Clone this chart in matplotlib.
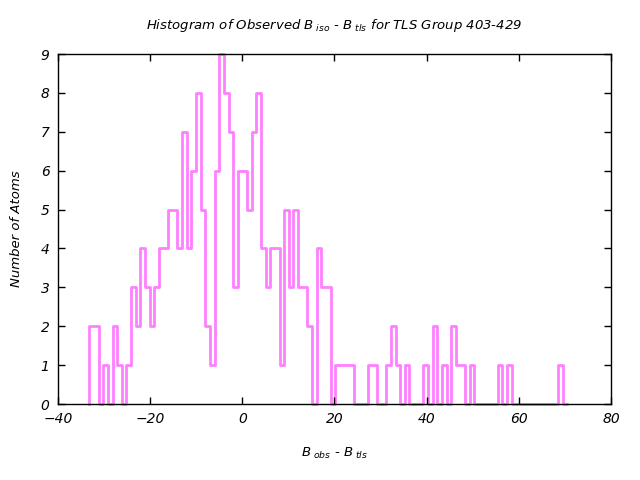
import matplotlib
matplotlib.use("Agg")
import matplotlib.pyplot as plt
import numpy as np

# histogram counts, one per bin (bin width ~1.0)
bin_start = -33.2
bin_end = 70.5
counts = [2, 2, 0, 1, 0, 2, 1, 0, 1, 3, 2, 4, 3, 2, 3, 4, 4, 5, 5, 4,
          7, 4, 6, 8, 5, 2, 1, 6, 9, 8, 7, 3, 6, 6, 5, 7, 8, 4, 3, 4,
          4, 1, 5, 3, 5, 3, 3, 2, 0, 4, 3, 3, 0, 1, 1, 1, 1, 0, 0, 0,
          1, 1, 0, 0, 1, 2, 1, 0, 1, 0, 0, 0, 1, 0, 2, 0, 1, 0, 2, 1,
          1, 0, 1, 0, 0, 0, 0, 0, 1, 0, 1, 0, 0, 0, 0, 0, 0, 0, 0, 0,
          0, 1, 0]

x_ticks = [-40, -20, 0, 20, 40, 60, 80]
y_ticks = list(range(10))

plt.rcParams['font.family'] = 'DejaVu Sans'
plt.rcParams['font.style'] = 'italic'
plt.rcParams['mathtext.fontset'] = 'dejavusans'
plt.rcParams['mathtext.default'] = 'it'

edges = np.linspace(bin_start, bin_end, len(counts) + 1)
xs = np.repeat(edges, 2)
ys = np.concatenate([[0], np.repeat(counts, 2), [0]])

fig = plt.figure(figsize=(6.4, 4.8), dpi=100)
ax = fig.add_axes([0.0906, 0.1583, 0.8641, 0.7292])
ax.plot(xs, ys, color='#ff80ff', lw=2.0, clip_on=False, zorder=1)

ax.set_xlim(-40, 80)
ax.set_ylim(0, 9)
ax.set_xticks(x_ticks)
ax.set_yticks(y_ticks)
ax.tick_params(direction='in', length=5, width=1, top=True, right=True,
               labelsize=10, pad=6)
for s in ax.spines.values():
    s.set_linewidth(1)
    s.set_zorder(3)

ax.set_title(r"Histogram of Observed $B_{\ iso}$ - $B_{\ tls}$ for TLS Group 403-429",
             fontsize=9.5, pad=18)
ax.set_xlabel(r"$B_{\ obs}$ - $B_{\ tls}$", fontsize=9.5, labelpad=14)
ax.set_ylabel("Number of Atoms", fontsize=9.5, labelpad=13)

fig.savefig("out.png", dpi=100)
